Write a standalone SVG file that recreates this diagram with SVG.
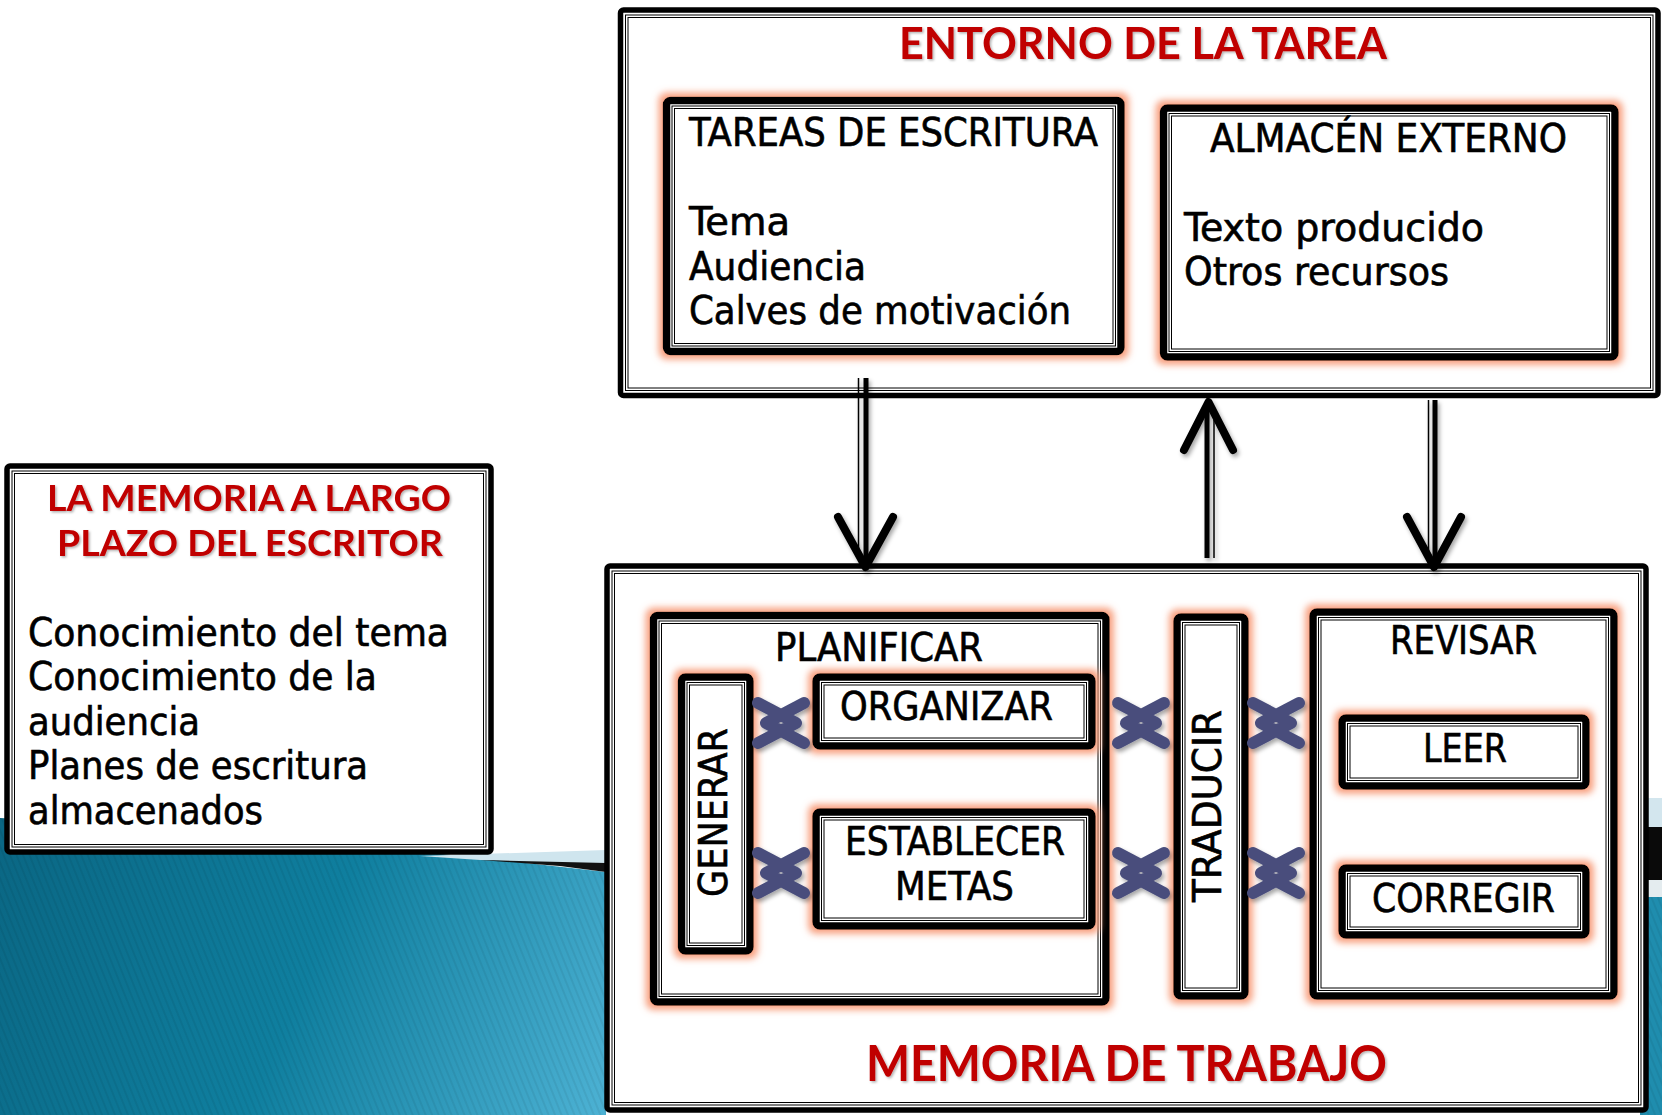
<svg xmlns="http://www.w3.org/2000/svg" width="1662" height="1115" viewBox="0 0 1662 1115">
<defs>
<style>
.obox{fill:#fff;stroke:#000;stroke-width:5.5}
.box{fill:#fff;stroke:#000;stroke-width:7.5;filter:url(#glow)}
.thin{fill:none;stroke:#000;stroke-width:1}
.t{font-family:"DejaVu Sans Condensed","DejaVu Sans",sans-serif;font-stretch:condensed;font-size:39px;fill:#000;stroke:#000;stroke-width:0.6}
.r{font-family:Lato,"Open Sans",sans-serif;font-weight:bold;fill:#C00000;filter:url(#tshadow)}
.x{fill:none;stroke:#4A4E7C;stroke-width:12;stroke-linecap:round;stroke-linejoin:round}
.ah{fill:none;stroke:#000;stroke-width:8;stroke-linecap:round;stroke-linejoin:round}
.sh{stroke:#000;stroke-width:5}
.sl{stroke:#000;stroke-width:1.5}
</style>
<linearGradient id="teal" x1="0" y1="850" x2="606" y2="1115" gradientUnits="userSpaceOnUse">
<stop offset="0" stop-color="#0A6784"/>
<stop offset="0.5" stop-color="#0F7F9F"/>
<stop offset="1" stop-color="#4DB2D4"/>
</linearGradient>
<pattern id="hatch" width="6" height="20" patternUnits="userSpaceOnUse" patternTransform="rotate(-22)">
<line x1="1" y1="0" x2="1" y2="20" stroke="#000" stroke-opacity="0.08" stroke-width="1.5"/>
</pattern>
<filter id="glow" x="-30%" y="-30%" width="160%" height="160%">
<feMorphology in="SourceAlpha" operator="dilate" radius="3.5" result="d"/>
<feGaussianBlur in="d" stdDeviation="3.5" result="b"/>
<feFlood flood-color="#F7946F" flood-opacity="0.9"/>
<feComposite in2="b" operator="in" result="g"/>
<feMerge><feMergeNode in="g"/><feMergeNode in="SourceGraphic"/></feMerge>
</filter>
<filter id="shadow" x="-30%" y="-30%" width="160%" height="160%">
<feDropShadow dx="2" dy="3" stdDeviation="2" flood-color="#000" flood-opacity="0.35"/>
</filter>
<filter id="tshadow" x="-10%" y="-30%" width="120%" height="160%">
<feDropShadow dx="1.5" dy="1.5" stdDeviation="1" flood-color="#000" flood-opacity="0.3"/>
</filter>
</defs>

<rect x="0" y="0" width="1662" height="1115" fill="#fff"/>

<g id="background">
<path d="M0,818 C150,826 400,848 606,872 L606,1115 L0,1115 Z" fill="url(#teal)"/>
<path d="M0,818 C150,826 400,848 606,872 L606,1115 L0,1115 Z" fill="url(#hatch)"/>
<path d="M420,856 L606,850 L606,864 L480,860 Z" fill="#CFE5EE"/>
<path d="M480,860 L606,863 L606,872 L560,866 Z" fill="#111"/>
<rect x="1640" y="798" width="22" height="29" fill="#D3E6EE"/>
<rect x="1640" y="827" width="22" height="53" fill="#0A0A0A"/>
<rect x="1640" y="880" width="22" height="17" fill="#E4ECEF"/>
<rect x="1640" y="897" width="22" height="218" fill="#1F8DAE"/>
<rect x="1640" y="897" width="22" height="218" fill="url(#hatch)"/>
</g>

<g id="memoria-largo-plazo">
<rect class="obox" x="7" y="466" width="484" height="386" rx="3"/>
<rect class="thin" x="12" y="471" width="474" height="376"/>
<rect class="thin" x="14.5" y="473.5" width="469" height="371"/>
<text class="r" x="47" y="511" font-size="37" textLength="404" lengthAdjust="spacingAndGlyphs">LA MEMORIA A LARGO</text>
<text class="r" x="57" y="556" font-size="37" textLength="386" lengthAdjust="spacingAndGlyphs">PLAZO DEL ESCRITOR</text>
<text class="t" x="28" y="646" textLength="421" lengthAdjust="spacingAndGlyphs">Conocimiento del tema</text>
<text class="t" x="28" y="690" textLength="349" lengthAdjust="spacingAndGlyphs">Conocimiento de la</text>
<text class="t" x="28" y="735" textLength="172" lengthAdjust="spacingAndGlyphs">audiencia</text>
<text class="t" x="28" y="779" textLength="340" lengthAdjust="spacingAndGlyphs">Planes de escritura</text>
<text class="t" x="28" y="824" textLength="235" lengthAdjust="spacingAndGlyphs">almacenados</text>
</g>

<g id="entorno-tarea">
<rect class="obox" x="620.5" y="10" width="1037.5" height="385.5" rx="3"/>
<rect class="thin" x="625.5" y="15" width="1027.5" height="375.5"/>
<rect class="thin" x="628" y="17.5" width="1022.5" height="370.5"/>
<text class="r" x="899" y="59" font-size="43" textLength="488" lengthAdjust="spacingAndGlyphs">ENTORNO DE LA TAREA</text>
</g>

<g id="tareas-escritura">
<rect class="box" x="666.5" y="100.5" width="454.5" height="251" rx="4"/>
<rect class="thin" x="672" y="106" width="443.5" height="240"/>
<rect class="thin" x="674.5" y="108.5" width="438.5" height="235"/>
<text class="t" x="689" y="146" textLength="409" lengthAdjust="spacingAndGlyphs">TAREAS DE ESCRITURA</text>
<text class="t" x="689" y="235" textLength="101" lengthAdjust="spacingAndGlyphs">Tema</text>
<text class="t" x="689" y="280" textLength="177" lengthAdjust="spacingAndGlyphs">Audiencia</text>
<text class="t" x="689" y="324" textLength="382" lengthAdjust="spacingAndGlyphs">Calves de motivación</text>
</g>

<g id="almacen-externo">
<rect class="box" x="1163.5" y="108" width="451.5" height="249" rx="4"/>
<rect class="thin" x="1169" y="113.5" width="440.5" height="238"/>
<rect class="thin" x="1171.5" y="116" width="435.5" height="233"/>
<text class="t" x="1210" y="152" textLength="357" lengthAdjust="spacingAndGlyphs">ALMACÉN EXTERNO</text>
<text class="t" x="1184" y="241" textLength="300" lengthAdjust="spacingAndGlyphs">Texto producido</text>
<text class="t" x="1184" y="285" textLength="265" lengthAdjust="spacingAndGlyphs">Otros recursos</text>
</g>

<g id="memoria-trabajo">
<rect class="obox" x="607" y="566" width="1039" height="544" rx="3"/>
<rect class="thin" x="612" y="571" width="1029" height="534"/>
<rect class="thin" x="614.5" y="573.5" width="1024" height="529"/>
<text class="r" x="866" y="1081" font-size="49" textLength="521" lengthAdjust="spacingAndGlyphs">MEMORIA DE TRABAJO</text>
</g>

<g id="planificar">
<rect class="box" x="653.5" y="615.5" width="452.5" height="386.5" rx="4"/>
<rect class="thin" x="659" y="621" width="441.5" height="375.5"/>
<rect class="thin" x="661.5" y="623.5" width="436.5" height="370.5"/>
<text class="t" x="775" y="661" textLength="208" lengthAdjust="spacingAndGlyphs">PLANIFICAR</text>
</g>

<g id="generar">
<rect class="box" x="681.5" y="677" width="68.5" height="274" rx="4"/>
<rect class="thin" x="687" y="682.5" width="57.5" height="263"/>
<rect class="thin" x="689.5" y="685" width="52.5" height="258"/>
<text class="t" transform="translate(727,897) rotate(-90)" x="0" y="0" textLength="169" lengthAdjust="spacingAndGlyphs">GENERAR</text>
</g>

<g id="organizar">
<rect class="box" x="816" y="677" width="276" height="69" rx="4"/>
<rect class="thin" x="821.5" y="682.5" width="265" height="58"/>
<rect class="thin" x="824" y="685" width="260" height="53"/>
<text class="t" x="840" y="720" textLength="213" lengthAdjust="spacingAndGlyphs">ORGANIZAR</text>
</g>

<g id="establecer-metas">
<rect class="box" x="816" y="812" width="276" height="114" rx="4"/>
<rect class="thin" x="821.5" y="817.5" width="265" height="103"/>
<rect class="thin" x="824" y="820" width="260" height="98"/>
<text class="t" x="845" y="855" textLength="220" lengthAdjust="spacingAndGlyphs">ESTABLECER</text>
<text class="t" x="895" y="900" textLength="119" lengthAdjust="spacingAndGlyphs">METAS</text>
</g>

<g id="traducir">
<rect class="box" x="1177" y="617" width="68" height="379" rx="4"/>
<rect class="thin" x="1182.5" y="622.5" width="57" height="368"/>
<rect class="thin" x="1185" y="625" width="52" height="363"/>
<text class="t" transform="translate(1221,902) rotate(-90)" x="0" y="0" textLength="192" lengthAdjust="spacingAndGlyphs">TRADUCIR</text>
</g>

<g id="revisar">
<rect class="box" x="1313" y="612" width="301" height="384" rx="4"/>
<rect class="thin" x="1318.5" y="617.5" width="290" height="373"/>
<rect class="thin" x="1321" y="620" width="285" height="368"/>
<text class="t" x="1390" y="654" textLength="147" lengthAdjust="spacingAndGlyphs">REVISAR</text>
</g>

<g id="leer">
<rect class="box" x="1342" y="718" width="244" height="68" rx="4"/>
<rect class="thin" x="1347.5" y="723.5" width="233" height="57"/>
<rect class="thin" x="1350" y="726" width="228" height="52"/>
<text class="t" x="1423" y="762" textLength="84" lengthAdjust="spacingAndGlyphs">LEER</text>
</g>

<g id="corregir">
<rect class="box" x="1342" y="868" width="244" height="67" rx="4"/>
<rect class="thin" x="1347.5" y="873.5" width="233" height="56"/>
<rect class="thin" x="1350" y="876" width="228" height="51"/>
<text class="t" x="1372" y="912" textLength="183" lengthAdjust="spacingAndGlyphs">CORREGIR</text>
</g>

<g id="connectors">
<g filter="url(#shadow)">
<line class="sh" x1="866" y1="378" x2="866" y2="562"/>
<line class="sl" x1="858.5" y1="378" x2="858.5" y2="555"/>
<polyline class="ah" points="838,517 865.5,567 893,517"/>
<line class="sh" x1="1207" y1="558" x2="1207" y2="408"/>
<line class="sl" x1="1214" y1="558" x2="1214" y2="420"/>
<polyline class="ah" points="1184,450 1208.5,402 1233,450"/>
<line class="sh" x1="1435" y1="400" x2="1435" y2="562"/>
<line class="sl" x1="1428.5" y1="400" x2="1428.5" y2="555"/>
<polyline class="ah" points="1407,517 1434,567 1461,517"/>
</g>
<g filter="url(#shadow)">
<path class="x" d="M758,703 L796,723 L758,743 M804,703 L766,723 L804,743"/>
<path class="x" d="M758,853 L796,873 L758,893 M804,853 L766,873 L804,893"/>
<path class="x" d="M1118,703 L1156,723 L1118,743 M1164,703 L1126,723 L1164,743"/>
<path class="x" d="M1118,853 L1156,873 L1118,893 M1164,853 L1126,873 L1164,893"/>
<path class="x" d="M1253,703 L1291,723 L1253,743 M1299,703 L1261,723 L1299,743"/>
<path class="x" d="M1253,853 L1291,873 L1253,893 M1299,853 L1261,873 L1299,893"/>
</g>
</g>
</svg>
